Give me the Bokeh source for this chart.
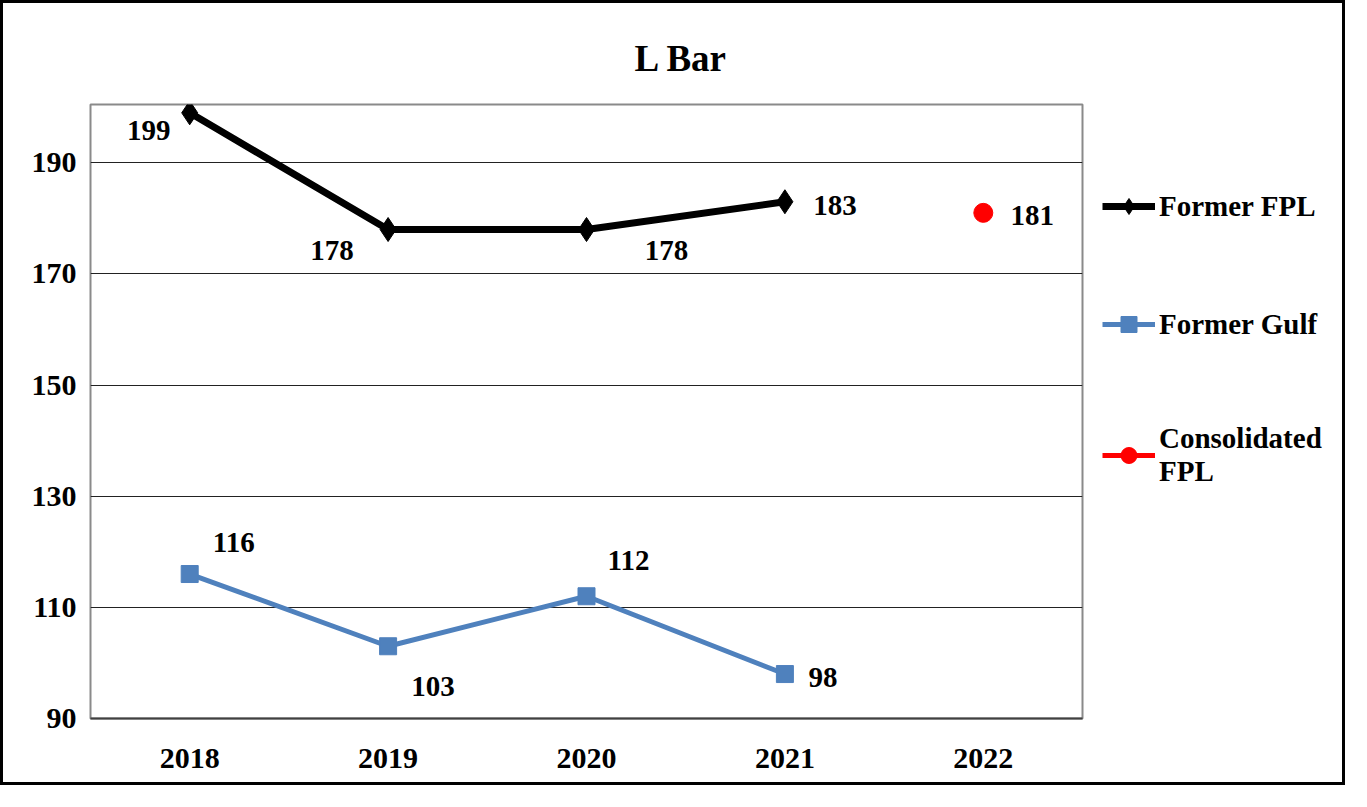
from bokeh.plotting import figure
from bokeh.models import Legend, LegendItem, FixedTicker, Range1d, FactorRange
from bokeh.core.properties import value
from bokeh.embed import file_html
from bokeh.resources import INLINE

years = ["2018", "2019", "2020", "2021", "2022"]
fpl_years = ["2018", "2019", "2020", "2021"]
fpl_vals = [199, 178, 178, 183]
gulf_years = ["2018", "2019", "2020", "2021"]
gulf_vals = [116, 103, 112, 98]
cons_years = ["2022"]
cons_vals = [181]
y_ticks = [90, 110, 130, 150, 170, 190]

# label offsets (screen px, style only)
fpl_dx = [-41, -56, 80, 50]
fpl_dy = [18, 21, 21, 4]
gulf_dx = [44, 45, 42, 38]
gulf_dy = [-32, 40, -36, 3]
cons_dx = [49]
cons_dy = [3]

FONT = "Liberation Serif"

p = figure(x_range=FactorRange(*years, range_padding=0), y_range=Range1d(90, 200.5),
           frame_width=992, frame_height=614, output_backend="svg", toolbar_location=None,
           min_border_left=87, min_border_right=0, min_border_top=101, min_border_bottom=70)
p.styles = {"border": "3px solid black", "width": "1345px", "height": "785px",
            "overflow": "hidden"}

p.title.text = "L Bar"
p.title.align = "left"
p.title.offset = 544
p.title.standoff = 50
p.title.vertical_align = "middle"
p.title.text_font = FONT
p.title.text_font_style = "bold"
p.title.text_font_size = "37px"
p.title.text_color = "black"

p.outline_line_color = "#8a8a8a"
p.outline_line_width = 2
p.xgrid.grid_line_color = None
p.ygrid.grid_line_color = "#222222"
p.ygrid.grid_line_width = 1
p.yaxis.ticker = FixedTicker(ticks=y_ticks)

for ax in (p.xaxis[0], p.yaxis[0]):
    ax.major_label_text_font = FONT
    ax.major_label_text_font_style = "bold"
    ax.major_label_text_font_size = "30px"
    ax.major_label_text_color = "black"
    ax.major_tick_line_color = None
    ax.minor_tick_line_color = None
    ax.major_tick_out = 0
    ax.major_tick_in = 0
p.yaxis.axis_line_color = None
p.yaxis.major_label_standoff = 14
p.xaxis.axis_line_color = "#404040"
p.xaxis.axis_line_width = 2
p.xaxis.major_label_standoff = 30

l1 = p.line(fpl_years, fpl_vals, line_color="black", line_width=7)
m1 = p.scatter(fpl_years, fpl_vals, marker="diamond", size=24, fill_color="black", line_color="black")
l2 = p.line(gulf_years, gulf_vals, line_color="#4F81BD", line_width=5)
m2 = p.scatter(gulf_years, gulf_vals, marker="square", size=17, fill_color="#4F81BD", line_color="#4F81BD")
l3 = p.line(cons_years, cons_vals, line_color="#FF0000", line_width=5)
m3 = p.scatter(cons_years, cons_vals, marker="circle", size=19, fill_color="#FF0000", line_color="#FF0000")

txt = dict(text_font=value(FONT), text_font_style="bold", text_font_size="29px",
           text_color="black", text_align="center", text_baseline="middle")
p.text(fpl_years, fpl_vals, text=[str(v) for v in fpl_vals], x_offset=fpl_dx, y_offset=fpl_dy, **txt)
p.text(gulf_years, gulf_vals, text=[str(v) for v in gulf_vals], x_offset=gulf_dx, y_offset=gulf_dy, **txt)
p.text(cons_years, cons_vals, text=[str(v) for v in cons_vals], x_offset=cons_dx, y_offset=cons_dy, **txt)

legend = Legend(items=[
    LegendItem(label="Former FPL", renderers=[l1, m1]),
    LegendItem(label="Former Gulf", renderers=[l2, m2]),
    LegendItem(label="Consolidated\nFPL", renderers=[l3, m3]),
], location=(20, 230))
legend.label_text_font = FONT
legend.label_text_font_style = "bold"
legend.label_text_font_size = "29px"
legend.label_text_color = "black"
legend.glyph_width = 53
legend.glyph_height = 40
legend.label_standoff = 4
legend.spacing = 78
legend.padding = 0
legend.margin = 0
legend.border_line_alpha = 0
legend.background_fill_alpha = 0
legend.label_height = 30
p.add_layout(legend, "right")

open("out.html", "w").write(file_html(p, INLINE))
